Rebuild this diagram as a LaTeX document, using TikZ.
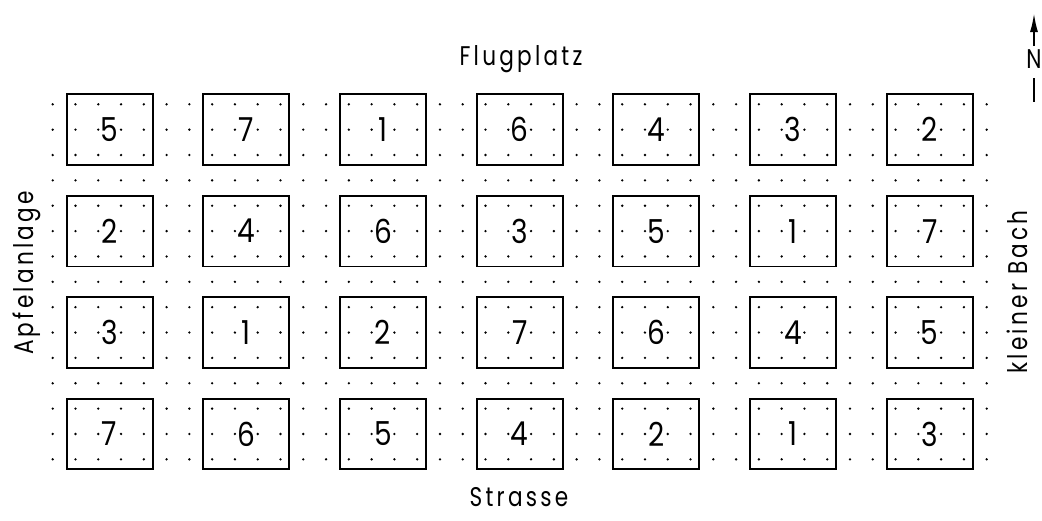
\documentclass[tikz,border=0pt]{standalone}
\usepackage{fontspec}
\newfontfamily\lab[FakeStretch=0.8,LetterSpace=12]{Poppins}
\newfontfamily\num[FakeStretch=0.85]{Poppins}
\usetikzlibrary{arrows.meta}
\begin{document}
\begin{tikzpicture}[x=1pt,y=-1pt,
  plot/.style={draw,line width=1.9pt,minimum width=86pt,minimum height=70.7pt,inner sep=0pt,font=\num\fontsize{33}{33}\selectfont},
  lbl/.style={font=\lab\fontsize{27}{27}\selectfont,inner sep=0pt,anchor=base}]
\useasboundingbox (0,0) rectangle (1042,520);
% dot grid
\foreach \k in {0,...,41}{
  \foreach \j in {0,...,14}{
    \fill (52.7+22.78*\k,104.3+25.36*\j) circle[radius=1.3pt];
  }
}
% plots
\def\dx{22.78}\def\dy{25.36}
\foreach \r/\list in {0/{5,7,1,6,4,3,2},1/{2,4,6,3,5,1,7},2/{3,1,2,7,6,4,5},3/{7,6,5,4,2,1,3}}{
  \foreach \n [count=\c from 0] in \list {
    \node[plot] (b\r-\c) at (52.7+\dx*6*\c+\dx*2.5, 104.3+\dy*4*\r+\dy) {\n};
  }
}
% labels
\node[lbl] (flug) at (521,65) {Flugplatz};
\node[lbl] (str) at (519,506) {Strasse};
\node[lbl,rotate=90] (apf) at (33,273) {Apfelanlage};
\node[lbl,rotate=90] (bach) at (1027,292) {kleiner Bach};
% north arrow
\node[lbl,anchor=base] (N) at (1034,68) {N};
\coordinate (ntail) at (1034,46);
\coordinate (ntip) at (1034,13);
\coordinate (ltop) at (1034,78);
\coordinate (lbot) at (1034,102);
\draw[line width=2pt,-{Latex[length=19pt,width=8pt]}] (ntail) -- (ntip);
\draw[line width=2pt] (ltop) -- (lbot);
\end{tikzpicture}
\end{document}
